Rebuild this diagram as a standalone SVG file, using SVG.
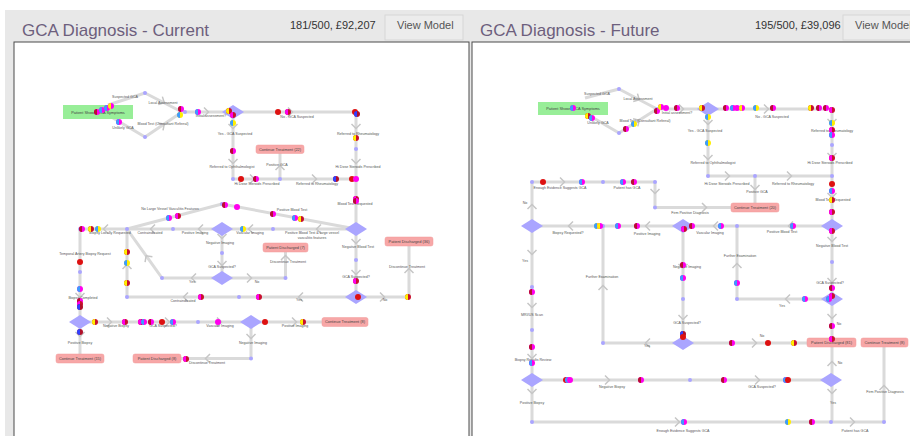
<svg xmlns="http://www.w3.org/2000/svg" xmlns:xlink="http://www.w3.org/1999/xlink" width="910" height="436" viewBox="0 0 910 436">
<style>
.ln{fill:none;stroke:#dadada;stroke-width:3;stroke-linejoin:round}
.lb{font-family:"Liberation Sans",Arial,sans-serif;font-size:3.6px;fill:#555;text-anchor:middle}
.bt{font-family:"Liberation Sans",Arial,sans-serif;font-size:3.9px;fill:#444;text-anchor:middle}
.rb{fill:#f7a7a7;stroke:#f09a9a;stroke-width:.5}
.gb{fill:#98ee98}
.nd{fill:#aaa5ff}
.dm{fill:#aaa5ff}
.ttl{font-family:"Liberation Sans",Arial,sans-serif;font-size:17px;fill:#6d5f7d}
.hd{font-family:"Liberation Sans",Arial,sans-serif;font-size:11px;fill:#333}
.btn{fill:#ececec;stroke:#d6d6d6}
.btx{font-family:"Liberation Sans",Arial,sans-serif;font-size:11px;fill:#555}
</style>
<defs>
<polyline id="ch" points="-3,-4.5 1.5,0 -3,4.5" fill="none" stroke="#c6c6c6" stroke-width="1.5"/>
<polygon id="dia" points="-11,0 0,-7 11,0 0,7" class="dm"/>
<g id="rm"><circle r="3" fill="#ff00ee"/><path d="M0-3A3 3 0 0 0 0 3Z" fill="#b5122e"/></g>
<g id="mr"><circle r="3" fill="#c8102e"/><path d="M0-3A3 3 0 0 0 0 3Z" fill="#ff00ee"/></g>
<g id="bm"><circle r="3" fill="#ff00ee"/><path d="M0-3A3 3 0 0 0 0 3Z" fill="#3d9bff"/></g>
<g id="by"><circle r="3" fill="#ffee00"/><path d="M0-3A3 3 0 0 0 0 3Z" fill="#3d9bff"/></g>
<g id="yr"><circle r="3" fill="#c8102e"/><path d="M0-3A3 3 0 0 0 0 3Z" fill="#ffee00"/></g>
<g id="ym"><circle r="3" fill="#ff00ee"/><path d="M0-3A3 3 0 0 0 0 3Z" fill="#ffee00"/></g>
<g id="bp"><circle r="3" fill="#b0102a"/><path d="M0-3A3 3 0 0 0 0 3Z" fill="#3040ff"/></g>
<circle id="r" r="3" fill="#dd1111"/>
<circle id="m" r="3" fill="#ff00ee"/>
</defs>

<rect x="0" y="0" width="910" height="436" fill="#fff"/>
<rect x="5" y="10" width="905" height="426" fill="#e8e8e8"/>

<g id="header-left">
<text class="ttl" x="22" y="36">GCA Diagnosis - Current</text>
<text class="hd" x="290" y="29">181/500, £92,207</text>
<rect class="btn" x="385" y="15" width="78" height="25"/>
<text class="btx" x="397" y="29">View Model</text>
</g>
<g id="header-right">
<text class="ttl" x="480" y="36">GCA Diagnosis - Future</text>
<text class="hd" x="755" y="29">195/500, £39,096</text>
<rect class="btn" x="843" y="15" width="80" height="25"/>
<text class="btx" x="855" y="29">View Model</text>
</g>

<rect id="canvas-left" x="14" y="42" width="455" height="400" fill="#fff" stroke="#4a4a4a" stroke-width="1"/>
<rect id="canvas-right" x="472" y="42" width="445" height="400" fill="#fff" stroke="#4a4a4a" stroke-width="1"/>

<!-- LEFT DIAGRAM -->
<g id="connectors-left">
<path class="ln" d="M108,105 L145,93 L182,112"/>
<path class="ln" d="M108,115 L145,137 L182,112"/>
<path class="ln" d="M182,112 H356 V297"/>
<path class="ln" d="M233,112 V179 H356"/>
<path class="ln" d="M280,179 V153"/>
<path class="ln" d="M356,229 H80 V322"/>
<path class="ln" d="M127,229 L222,204 L356,229"/>
<path class="ln" d="M222,229 V278"/>
<path class="ln" d="M222,278 H162 L127,229"/>
<path class="ln" d="M222,278 H285.5 V252"/>
<path class="ln" d="M127,229 V297 H356"/>
<path class="ln" d="M356,297 H409 V246"/>
<path class="ln" d="M80,322 H322"/>
<path class="ln" d="M80,322 V354"/>
<path class="ln" d="M251,322 V358.5 H181"/>
<use href="#ch" transform="translate(163,102) rotate(27)"/>
<use href="#ch" transform="translate(163,125) rotate(-34)"/>
<use href="#ch" transform="translate(207,112)"/>
<use href="#ch" transform="translate(233,127) rotate(90)"/>
<use href="#ch" transform="translate(233,162) rotate(90)"/>
<use href="#ch" transform="translate(291,112)"/>
<use href="#ch" transform="translate(356,127) rotate(90)"/>
<use href="#ch" transform="translate(356,162) rotate(90)"/>
<use href="#ch" transform="translate(253,179)"/>
<use href="#ch" transform="translate(315,179)"/>
<use href="#ch" transform="translate(280,167) rotate(-90)"/>
<use href="#ch" transform="translate(356,242) rotate(90)"/>
<use href="#ch" transform="translate(356,273) rotate(90)"/>
<use href="#ch" transform="translate(383,297)"/>
<use href="#ch" transform="translate(409,270) rotate(-90)"/>
<use href="#ch" transform="translate(300,297) rotate(180)"/>
<use href="#ch" transform="translate(285.5,257) rotate(-90)"/>
<use href="#ch" transform="translate(250,278)"/>
<use href="#ch" transform="translate(250,229) rotate(180)"/>
<use href="#ch" transform="translate(318,229) rotate(180)"/>
<use href="#ch" transform="translate(105,229) rotate(180)"/>
<use href="#ch" transform="translate(152,229) rotate(180)"/>
<use href="#ch" transform="translate(200,229) rotate(180)"/>
<use href="#ch" transform="translate(222,237) rotate(90)"/>
<use href="#ch" transform="translate(222,264) rotate(90)"/>
<use href="#ch" transform="translate(193,278) rotate(180)"/>
<use href="#ch" transform="translate(147,257) rotate(-125.5)"/>
<use href="#ch" transform="translate(127,266) rotate(-90)"/>
<use href="#ch" transform="translate(185,297) rotate(180)"/>
<use href="#ch" transform="translate(80,296) rotate(90)"/>
<use href="#ch" transform="translate(110,322)"/>
<use href="#ch" transform="translate(168,322)"/>
<use href="#ch" transform="translate(220,322)"/>
<use href="#ch" transform="translate(295,322)"/>
<use href="#ch" transform="translate(80,335) rotate(90)"/>
<use href="#ch" transform="translate(251,337) rotate(90)"/>
<use href="#ch" transform="translate(207,358.5) rotate(180)"/>
</g>

<g id="labels-left">
<text class="lb" x="125" y="98">Suspected GCA</text>
<text class="lb" x="163" y="104">Local Assessment</text>
<text class="lb" x="123" y="129">Unlikely GCA</text>
<text class="lb" x="163" y="125">Blood Test (Consultant Referral)</text>
<text class="lb" x="211" y="117">Initial assessment?</text>
<text class="lb" x="297" y="118">No - GCA Suspected</text>
<text class="lb" x="235" y="135">Yes - GCA Suspected</text>
<text class="lb" x="232" y="168">Referred to Ophthalmologist</text>
<text class="lb" x="257" y="185">Hi Dose Steroids Prescribed</text>
<text class="lb" x="277" y="166">Positive GCA</text>
<text class="lb" x="317" y="185">Referred to Rheumatology</text>
<text class="lb" x="358" y="135">Referred to Rheumatology</text>
<text class="lb" x="358" y="168">Hi Dose Steroids Prescribed</text>
<text class="lb" x="355" y="205">Blood Test Requested</text>
<text class="lb" x="292" y="211">Positive Blood Test</text>
<text class="lb" x="312" y="234">Positive Blood Test &amp; large vessel</text>
<text class="lb" x="312" y="238.5">vasculitis features</text>
<text class="lb" x="170" y="210">No Large Vessel Vasculitis Features</text>
<text class="lb" x="250" y="234">Vascular Imaging</text>
<text class="lb" x="195" y="234">Positive Imaging</text>
<text class="lb" x="150" y="234">Contraindicated</text>
<text class="lb" x="110" y="234">Biopsy Locally Requested</text>
<text class="lb" x="85" y="255">Temporal Artery Biopsy Request</text>
<text class="lb" x="220" y="244">Negative Imaging</text>
<text class="lb" x="222" y="268">GCA Suspected?</text>
<text class="lb" x="192" y="283">Yes</text>
<text class="lb" x="257" y="283">No</text>
<text class="lb" x="288" y="263">Discontinue Treatment</text>
<text class="lb" x="183" y="302">Contraindicated</text>
<text class="lb" x="299" y="301">Yes</text>
<text class="lb" x="358" y="248">Negative Blood Test</text>
<text class="lb" x="356" y="278">GCA Suspected?</text>
<text class="lb" x="385" y="301">No</text>
<text class="lb" x="407" y="268">Discontinue Treatment</text>
<text class="lb" x="83" y="299">Biopsy Completed</text>
<text class="lb" x="116" y="327">Negative Biopsy</text>
<text class="lb" x="163" y="327">GCA Suspected?</text>
<text class="lb" x="220" y="327">Vascular Imaging</text>
<text class="lb" x="295" y="327">Positive Imaging</text>
<text class="lb" x="80" y="344">Positive Biopsy</text>
<text class="lb" x="253" y="344">Negative Imaging</text>
<text class="lb" x="207" y="364">Discontinue Treatment</text>
</g>

<g id="start-left"><rect class="gb" x="63" y="105" width="70" height="14"/><text class="bt" x="98" y="113.5">Patient Shows GCA Symptoms</text></g>
<g id="ct22-left"><rect class="rb" x="256" y="145" width="48" height="8.5" rx="2"/><text class="bt" x="280" y="150.6">Continue Treatment (22)</text></g>
<g id="pd7-left"><rect class="rb" x="263" y="243" width="45" height="9" rx="2"/><text class="bt" x="285.5" y="248.8">Patient Discharged (7)</text></g>
<g id="pd36-left"><rect class="rb" x="385" y="237" width="48" height="9" rx="2"/><text class="bt" x="409" y="242.8">Patient Discharged (36)</text></g>
<g id="ct8-left"><rect class="rb" x="322" y="317.5" width="46" height="9" rx="2"/><text class="bt" x="345" y="323.3">Continue Treatment (8)</text></g>
<g id="ct15-left"><rect class="rb" x="56" y="354" width="48" height="9" rx="2"/><text class="bt" x="80" y="359.8">Continue Treatment (15)</text></g>
<g id="pd8-left"><rect class="rb" x="133" y="354" width="48" height="9" rx="2"/><text class="bt" x="157" y="359.8">Patient Discharged (8)</text></g>

<g id="decisions-left">
<use href="#dia" x="233" y="112"/><use href="#dia" x="222" y="229"/><use href="#dia" x="356" y="229"/>
<use href="#dia" x="222" y="278"/><use href="#dia" x="356" y="297"/><use href="#dia" x="80" y="322"/><use href="#dia" x="251" y="322"/>
</g>
<g id="nodes-left" class="nd">
<circle cx="145" cy="93" r="2"/><circle cx="145" cy="137" r="2"/><circle cx="185" cy="112" r="2"/><circle cx="233" cy="179" r="2"/>
<circle cx="280" cy="179" r="2"/><circle cx="356" cy="149" r="2"/><circle cx="127" cy="229" r="2"/><circle cx="173" cy="229" r="2"/>
<circle cx="222" cy="204" r="2"/><circle cx="273" cy="229" r="2"/><circle cx="222" cy="253" r="2"/><circle cx="162" cy="278" r="2"/>
<circle cx="285.5" cy="278" r="2"/><circle cx="127" cy="297" r="2"/><circle cx="239" cy="297" r="2"/><circle cx="356" cy="260" r="2"/>
<circle cx="80" cy="272" r="2"/><circle cx="198" cy="322" r="2"/><circle cx="251" cy="358.5" r="2"/><circle cx="80" cy="229" r="2"/>
</g>
<g id="patients-left">
<use href="#rm" x="97" y="112"/><use href="#bm" x="102" y="110"/><use href="#bm" x="107" y="108"/><use href="#ym" x="111" y="106"/>
<use href="#bm" x="119" y="122"/><use href="#rm" x="181" y="109"/><use href="#by" x="180" y="115"/><use href="#bm" x="198" y="112"/>
<use href="#yr" x="229" y="111"/><use href="#mr" x="233" y="115"/><use href="#by" x="233" y="123"/><use href="#rm" x="233" y="151"/>
<use href="#r" x="241" y="179"/><use href="#rm" x="256" y="179"/><use href="#r" x="278" y="112"/><use href="#mr" x="288" y="112"/>
<use href="#r" x="355" y="112"/><use href="#bp" x="357" y="114"/><use href="#yr" x="356" y="138"/>
<use href="#bp" x="336" y="179"/><use href="#r" x="352" y="179"/><use href="#m" x="356" y="179"/>
<use href="#mr" x="356" y="199"/><use href="#rm" x="356" y="201"/>
<use href="#rm" x="273" y="214"/><use href="#bm" x="295" y="218"/><use href="#yr" x="301" y="219"/><use href="#by" x="243" y="229"/>
<use href="#mr" x="356" y="281"/><use href="#r" x="358" y="297"/><use href="#mr" x="259" y="297"/><use href="#yr" x="408" y="297"/>
<use href="#rm" x="82" y="229"/><use href="#yr" x="91" y="229"/><use href="#by" x="98" y="229"/>
<use href="#bm" x="169" y="218"/><use href="#mr" x="178" y="216"/><use href="#rm" x="225" y="205"/><use href="#m" x="237" y="207"/>
<use href="#yr" x="127" y="252"/><use href="#by" x="127" y="263"/><use href="#yr" x="127" y="283"/>
<use href="#r" x="80" y="262"/><use href="#bm" x="80" y="289"/><use href="#rm" x="80" y="301"/><use href="#mr" x="80" y="304"/><use href="#bp" x="80" y="307"/>
<use href="#mr" x="201" y="297"/>
<use href="#yr" x="95" y="322"/><use href="#mr" x="125" y="322"/><use href="#mr" x="141" y="322"/><use href="#bm" x="144" y="322"/>
<use href="#rm" x="151" y="322"/><use href="#r" x="162" y="322"/><use href="#bm" x="173" y="322"/><use href="#m" x="218" y="322"/>
<use href="#r" x="265" y="322"/><use href="#yr" x="303" y="322"/><use href="#bp" x="80" y="332"/><use href="#mr" x="186" y="359"/>
</g>

<!-- RIGHT DIAGRAM -->
<g id="connectors-right">
<path class="ln" d="M585,98 L619,89 L657,109"/>
<path class="ln" d="M585,113 L619,133 L657,109"/>
<path class="ln" d="M657,109 H832 V338"/>
<path class="ln" d="M832,347 V422"/>
<path class="ln" d="M708,109 V176 H832"/>
<path class="ln" d="M755,176 V203"/>
<path class="ln" d="M532,182 H655 V207.5 H731"/>
<path class="ln" d="M832,226 H532"/>
<path class="ln" d="M532,182 V422 H884 V347"/>
<path class="ln" d="M683,226 V343 H603 V226"/>
<path class="ln" d="M683,343 H807"/>
<path class="ln" d="M737,226 V299 H832"/>
<path class="ln" d="M532,380 H831"/>
<use href="#ch" transform="translate(638,99) rotate(28)"/>
<use href="#ch" transform="translate(638,121) rotate(-32)"/>
<use href="#ch" transform="translate(682,109)"/>
<use href="#ch" transform="translate(708,123) rotate(90)"/>
<use href="#ch" transform="translate(708,158) rotate(90)"/>
<use href="#ch" transform="translate(767,109)"/>
<use href="#ch" transform="translate(832,122) rotate(90)"/>
<use href="#ch" transform="translate(832,156) rotate(90)"/>
<use href="#ch" transform="translate(832,196) rotate(90)"/>
<use href="#ch" transform="translate(728,176)"/>
<use href="#ch" transform="translate(790,176)"/>
<use href="#ch" transform="translate(755,188) rotate(90)"/>
<use href="#ch" transform="translate(705,207.5)"/>
<use href="#ch" transform="translate(563,182)"/>
<use href="#ch" transform="translate(655,192) rotate(90)"/>
<use href="#ch" transform="translate(532,206) rotate(-90)"/>
<use href="#ch" transform="translate(570,226) rotate(180)"/>
<use href="#ch" transform="translate(647,226) rotate(180)"/>
<use href="#ch" transform="translate(715,226) rotate(180)"/>
<use href="#ch" transform="translate(790,226) rotate(180)"/>
<use href="#ch" transform="translate(532,253) rotate(90)"/>
<use href="#ch" transform="translate(532,306) rotate(90)"/>
<use href="#ch" transform="translate(532,357) rotate(90)"/>
<use href="#ch" transform="translate(683,267) rotate(90)"/>
<use href="#ch" transform="translate(683,318) rotate(90)"/>
<use href="#ch" transform="translate(603,287) rotate(-90)"/>
<use href="#ch" transform="translate(647,343) rotate(180)"/>
<use href="#ch" transform="translate(737,265) rotate(-90)"/>
<use href="#ch" transform="translate(832,240) rotate(90)"/>
<use href="#ch" transform="translate(832,281) rotate(90)"/>
<use href="#ch" transform="translate(787,299) rotate(180)"/>
<use href="#ch" transform="translate(832,317) rotate(90)"/>
<use href="#ch" transform="translate(755,343)"/>
<use href="#ch" transform="translate(608,380)"/>
<use href="#ch" transform="translate(758,380)"/>
<use href="#ch" transform="translate(832,363) rotate(-90)"/>
<use href="#ch" transform="translate(532,392) rotate(90)"/>
<use href="#ch" transform="translate(832,392) rotate(90)"/>
<use href="#ch" transform="translate(678,422)"/>
<use href="#ch" transform="translate(853,422)"/>
<use href="#ch" transform="translate(884,387) rotate(-90)"/>
</g>

<g id="labels-right">
<text class="lb" x="597" y="95">Suspected GCA</text>
<text class="lb" x="638" y="100">Local Assessment</text>
<text class="lb" x="598" y="124">Unlikely GCA</text>
<text class="lb" x="645" y="122">Blood Test (Consultant Referral)</text>
<text class="lb" x="677" y="114">Initial assessment?</text>
<text class="lb" x="772" y="118">No - GCA Suspected</text>
<text class="lb" x="705" y="132">Yes - GCA Suspected</text>
<text class="lb" x="713" y="164">Referred to Ophthalmologist</text>
<text class="lb" x="832" y="132">Referred to Rheumatology</text>
<text class="lb" x="830" y="164">Hi Dose Steroids Prescribed</text>
<text class="lb" x="727" y="185">Hi Dose Steroids Prescribed</text>
<text class="lb" x="793" y="185">Referred to Rheumatology</text>
<text class="lb" x="757" y="193">Positive GCA</text>
<text class="lb" x="833" y="201">Blood Test Requested</text>
<text class="lb" x="560" y="189">Enough Evidence Suggests GCA</text>
<text class="lb" x="627" y="189">Patient has GCA</text>
<text class="lb" x="525" y="204">No</text>
<text class="lb" x="690" y="214">Firm Positive Diagnosis</text>
<text class="lb" x="568" y="234">Biopsy Requested?</text>
<text class="lb" x="647" y="235">Positive Imaging</text>
<text class="lb" x="710" y="234">Vascular Imaging</text>
<text class="lb" x="782" y="233">Positive Blood Test</text>
<text class="lb" x="525" y="262">Yes</text>
<text class="lb" x="532" y="316">MRI/US Scan</text>
<text class="lb" x="533" y="361">Biopsy Results Review</text>
<text class="lb" x="687" y="268">Negative Imaging</text>
<text class="lb" x="687" y="324">GCA Suspected?</text>
<text class="lb" x="602" y="278">Further Examination</text>
<text class="lb" x="647" y="347">Yes</text>
<text class="lb" x="740" y="257">Further Examination</text>
<text class="lb" x="832" y="247">Negative Blood Test</text>
<text class="lb" x="830" y="284">GCA Suspected?</text>
<text class="lb" x="782" y="307">Yes</text>
<text class="lb" x="839" y="325">No</text>
<text class="lb" x="762" y="337">No</text>
<text class="lb" x="612" y="388">Negative Biopsy</text>
<text class="lb" x="762" y="388">GCA Suspected?</text>
<text class="lb" x="840" y="364">No</text>
<text class="lb" x="833" y="404">Yes</text>
<text class="lb" x="532" y="404">Positive Biopsy</text>
<text class="lb" x="683" y="432">Enough Evidence Suggests GCA</text>
<text class="lb" x="855" y="432">Patient has GCA</text>
<text class="lb" x="885" y="393">Firm Positive Diagnosis</text>
</g>

<g id="start-right"><rect class="gb" x="538" y="102" width="70" height="13"/><text class="bt" x="573" y="110">Patient Shows GCA Symptoms</text></g>
<g id="ct20-right"><rect class="rb" x="731" y="203" width="48" height="9" rx="2"/><text class="bt" x="755" y="208.8">Continue Treatment (20)</text></g>
<g id="pd81-right"><rect class="rb" x="807" y="338" width="49" height="9" rx="2"/><text class="bt" x="831.5" y="343.8">Patient Discharged (81)</text></g>
<g id="ct8-right"><rect class="rb" x="861" y="338" width="47" height="9" rx="2"/><text class="bt" x="884.5" y="343.8">Continue Treatment (8)</text></g>

<g id="decisions-right">
<use href="#dia" x="708" y="109"/><use href="#dia" x="832" y="226"/><use href="#dia" x="532" y="226"/><use href="#dia" x="683" y="226"/>
<use href="#dia" x="832" y="299"/><use href="#dia" x="683" y="343"/><use href="#dia" x="532" y="380"/><use href="#dia" x="831" y="380"/>
</g>
<g id="nodes-right" class="nd">
<circle cx="619" cy="89" r="2"/><circle cx="619" cy="133" r="2"/><circle cx="657" cy="109" r="2"/><circle cx="708" cy="176" r="2"/>
<circle cx="755" cy="176" r="2"/><circle cx="832" cy="145" r="2"/><circle cx="832" cy="176" r="2"/><circle cx="532" cy="182" r="2"/>
<circle cx="603" cy="182" r="2"/><circle cx="655" cy="182" r="2"/><circle cx="655" cy="207.5" r="2"/><circle cx="603" cy="226" r="2"/>
<circle cx="737" cy="226" r="2"/><circle cx="832" cy="262" r="2"/><circle cx="737" cy="299" r="2"/><circle cx="683" cy="299" r="2"/>
<circle cx="603" cy="343" r="2"/><circle cx="532" cy="287" r="2"/><circle cx="532" cy="330" r="2"/><circle cx="690" cy="380" r="2"/>
<circle cx="532" cy="422" r="2"/><circle cx="831" cy="422" r="2"/><circle cx="884" cy="422" r="2"/>
</g>
<g id="patients-right">
<use href="#bm" x="573" y="108"/><use href="#yr" x="588" y="116"/><use href="#bm" x="592" y="118"/>
<use href="#rm" x="657" y="111"/><use href="#ym" x="661" y="107"/><use href="#m" x="666" y="108"/><use href="#rm" x="677" y="108"/>
<use href="#rm" x="626" y="129"/><use href="#by" x="634" y="124"/><use href="#yr" x="702" y="108"/>
<use href="#by" x="708" y="117"/><use href="#by" x="708" y="143"/>
<use href="#rm" x="726" y="108"/><use href="#bm" x="733" y="108"/><use href="#m" x="737" y="108"/><use href="#ym" x="742" y="108"/>
<use href="#by" x="756" y="108"/><use href="#rm" x="773" y="108"/><use href="#yr" x="811" y="108"/><use href="#rm" x="819" y="108"/>
<use href="#rm" x="826" y="108"/><use href="#mr" x="832" y="110"/>
<use href="#by" x="832" y="123"/><use href="#mr" x="832" y="130"/><use href="#bm" x="832" y="135"/><use href="#mr" x="832" y="158"/>
<use href="#r" x="832" y="184"/><use href="#bm" x="832" y="191"/><use href="#yr" x="832" y="200"/><use href="#mr" x="832" y="212"/>
<use href="#mr" x="832" y="231"/><use href="#bm" x="721" y="226"/><use href="#bm" x="793" y="226"/>
<use href="#r" x="543" y="182"/><use href="#bm" x="582" y="182"/><use href="#bm" x="623" y="182"/><use href="#rm" x="634" y="182"/>
<use href="#by" x="597" y="226"/><use href="#ym" x="600" y="226"/><use href="#bm" x="618" y="226"/><use href="#rm" x="637" y="226"/>
<use href="#rm" x="692" y="226"/><use href="#mr" x="684" y="229"/>
<use href="#rm" x="683" y="265"/><use href="#bm" x="683" y="278"/><use href="#bp" x="683" y="334"/><use href="#r" x="683" y="337"/>
<use href="#rm" x="532" y="292"/><use href="#rm" x="532" y="347"/><use href="#bm" x="532" y="363"/>
<use href="#bm" x="737" y="283"/><use href="#bm" x="805" y="299"/>
<use href="#rm" x="832" y="288"/><use href="#mr" x="832" y="296"/><use href="#bm" x="829" y="299"/>
<use href="#rm" x="832" y="326"/><use href="#mr" x="832" y="339"/>
<use href="#rm" x="732" y="343"/><use href="#r" x="768" y="343"/><use href="#yr" x="794" y="343"/>
<use href="#r" x="566" y="380"/><use href="#bm" x="568" y="380"/><use href="#m" x="570" y="380"/>
<use href="#rm" x="641" y="380"/><use href="#rm" x="724" y="380"/><use href="#bm" x="786" y="380"/><use href="#r" x="788" y="380"/>
<use href="#bm" x="684" y="422"/><use href="#by" x="788" y="422"/><use href="#rm" x="812" y="422"/>
</g>
</svg>
